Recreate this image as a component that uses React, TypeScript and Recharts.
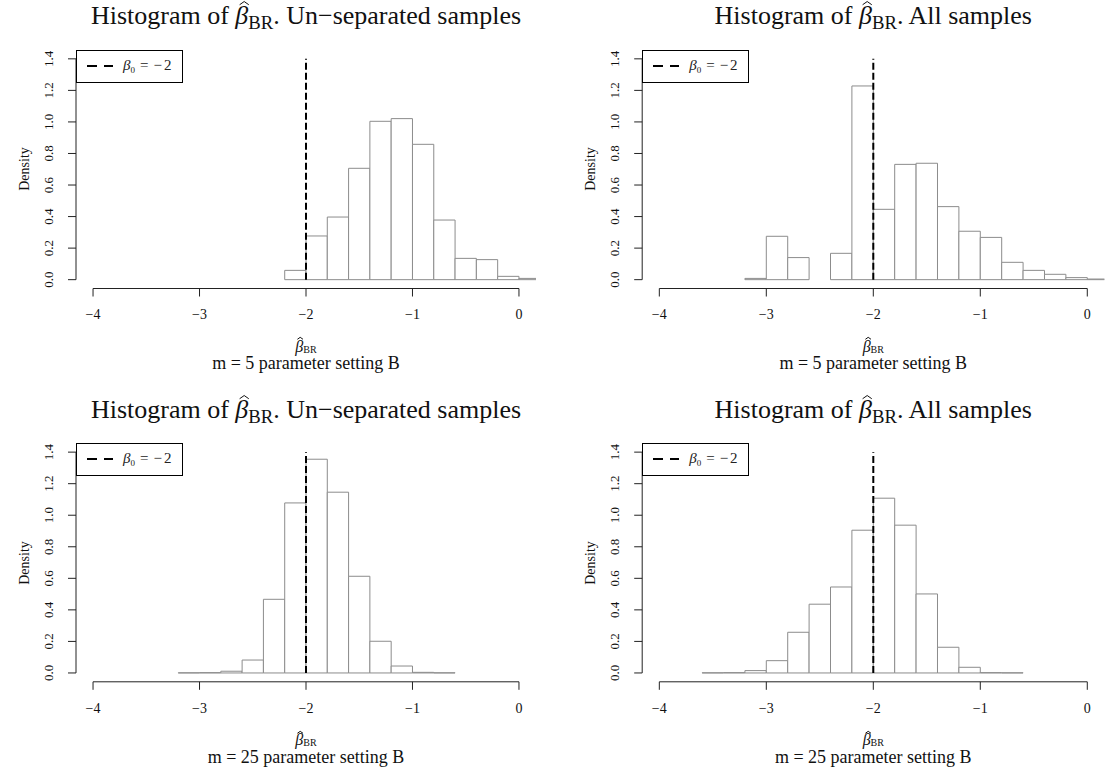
import React from 'react';
import { ComposedChart, XAxis, YAxis, ReferenceArea, ReferenceLine, Legend } from 'recharts';

const FONT = '"Liberation Serif", "DejaVu Serif", serif';

// ---- data ----
const xTicks = [-4, -3, -2, -1, 0];
const yTicks = [0, 0.2, 0.4, 0.6, 0.8, 1.0, 1.2, 1.4];
const trueBeta = -2;
const binWidth = 0.2;
const xDomain: [number, number] = [-4.16, 0.16];
const yDomain: [number, number] = [-0.056, 1.456];

const edgesUnsepM5 = [-2.2, -2.0, -1.8, -1.6, -1.4, -1.2, -1.0, -0.8, -0.6, -0.4, -0.2, 0.0];
const densUnsepM5 = [0.059, 0.277, 0.397, 0.706, 1.004, 1.021, 0.858, 0.378, 0.135, 0.127, 0.021, 0.008];

const edgesAllM5 = [-3.2, -3.0, -2.8, -2.6, -2.4, -2.2, -2.0, -1.8, -1.6, -1.4, -1.2, -1.0, -0.8, -0.6, -0.4, -0.2, 0.0];
const densAllM5 = [0.008, 0.275, 0.14, 0, 0.167, 1.228, 0.446, 0.731, 0.738, 0.463, 0.307, 0.268, 0.11, 0.059, 0.034, 0.013, 0.004];

const edgesUnsepM25 = [-3.2, -3.0, -2.8, -2.6, -2.4, -2.2, -2.0, -1.8, -1.6, -1.4, -1.2, -1.0, -0.8];
const densUnsepM25 = [0.001, 0.002, 0.011, 0.082, 0.467, 1.078, 1.355, 1.146, 0.613, 0.201, 0.044, 0.004, 0.001];

const edgesAllM25 = [-3.6, -3.4, -3.2, -3.0, -2.8, -2.6, -2.4, -2.2, -2.0, -1.8, -1.6, -1.4, -1.2, -1.0, -0.8];
const densAllM25 = [0.001, 0.002, 0.015, 0.078, 0.258, 0.436, 0.545, 0.905, 1.108, 0.937, 0.501, 0.163, 0.036, 0.002, 0.001];

const titleKinds = ['Un\u2212separated samples', 'All samples'];
const mValues = [5, 25];
const settingLabel = 'parameter setting B';

// ---- layout ----
const LAYOUT = [
  { plot: { l: 76, t: 50, r: 536, b: 288.5 }, box: { x: 0, y: 0, w: 553, h: 386 } },
  { plot: { l: 642.2, t: 50, r: 1104.4, b: 288.5 }, box: { x: 553, y: 0, w: 553, h: 386 } },
  { plot: { l: 76, t: 443.3, r: 536, b: 681.8 }, box: { x: 0, y: 386, w: 553, h: 387 } },
  { plot: { l: 642.2, t: 443.3, r: 1104.4, b: 681.8 }, box: { x: 553, y: 386, w: 553, h: 387 } },
];

const fmtX = (v: number) => (v < 0 ? `\u2212${Math.abs(v)}` : `${v}`);

const XTick = (props: any) => {
  const { x, y, payload } = props;
  return (
    <text x={x} y={y + 22.8} textAnchor="middle" style={{ fontFamily: FONT, fontSize: 14 }} fill="#111">
      {fmtX(payload.value)}
    </text>
  );
};

const YTick = (props: any) => {
  const { x, y, payload } = props;
  const bx = x - 14.7;
  return (
    <text
      x={bx}
      y={y}
      transform={`rotate(-90 ${bx} ${y})`}
      textAnchor="middle"
      style={{ fontFamily: FONT, fontSize: 13 }}
      fill="#111"
    >
      {Number(payload.value).toFixed(1)}
    </text>
  );
};

// italic beta with a hat accent drawn above it
const BetaHat = () => (
  <span style={{ position: 'relative', display: 'inline-block', fontStyle: 'italic' }}>
    β
    <svg
      viewBox="0 0 10 4"
      preserveAspectRatio="none"
      style={{
        position: 'absolute',
        left: '0.13em',
        top: '-0.07em',
        width: '0.4em',
        height: '0.16em',
        overflow: 'visible',
      }}
    >
      <polyline points="0.6,3.6 5,0.5 9.4,3.6" fill="none" stroke="#111" strokeWidth={1} vectorEffect="non-scaling-stroke" />
    </svg>
  </span>
);

const LegendBox = () => (
  <div
    style={{
      width: 107,
      height: 33,
      boxSizing: 'border-box',
      border: '1px solid #000',
      background: '#fff',
      position: 'relative',
      fontFamily: FONT,
    }}
  >
    <svg width={30} height={4} style={{ position: 'absolute', left: 10, top: 13 }}>
      <line x1={0} y1={2} x2={26} y2={2} stroke="#000" strokeWidth={2} strokeDasharray="10 7" />
    </svg>
    <div
      style={{
        position: 'absolute',
        left: 46,
        top: 7,
        fontSize: 15,
        lineHeight: '15px',
        whiteSpace: 'nowrap',
        color: '#222',
      }}
    >
      <i>β</i>
      <span style={{ fontSize: 9, position: 'relative', top: 3 }}>0</span>
      <span style={{ marginLeft: 5 }}>=</span>
      <span style={{ marginLeft: 5 }}>{'\u2212'}</span>
      <span style={{ marginLeft: 2 }}>2</span>
    </div>
  </div>
);

type PanelProps = { edges: number[]; dens: number[]; kind: string; m: number; L: typeof LAYOUT[number] };

function Panel({ edges, dens, kind, m, L }: PanelProps) {
  const { plot, box } = L;
  const YW = 40;
  const XH = 40;
  const margin = {
    top: plot.t - box.y,
    left: plot.l - box.x - YW,
    right: box.x + box.w - plot.r,
    bottom: box.y + box.h - plot.b - XH,
  };
  const bins = edges.map((lo, i) => ({ lo, hi: Math.round((lo + binWidth) * 10) / 10, density: dens[i] }));
  const pl = plot.l - box.x;
  const pw = plot.r - plot.l;
  const titleFs = 26;
  const titleBase = plot.t - 25 - box.y;
  const xlabBase = plot.b + 63.5 - box.y;
  const subBase = plot.b + 81 - box.y;
  const k = 0.8375;
  const subFs = 18;
  const subLh = 14;
  return (
    <div style={{ position: 'absolute', left: box.x, top: box.y, width: box.w, height: box.h }}>
      <ComposedChart width={box.w} height={box.h} data={bins} margin={margin}>
        <XAxis
          type="number"
          dataKey="lo"
          domain={xDomain}
          allowDataOverflow
          ticks={xTicks}
          interval={0}
          axisLine={false}
          tickLine={{ stroke: '#222' }}
          tickSize={8}
          tickMargin={0}
          height={XH}
          tick={<XTick />}
        />
        <YAxis
          type="number"
          domain={yDomain}
          allowDataOverflow
          ticks={yTicks}
          interval={0}
          axisLine={false}
          tickLine={{ stroke: '#222' }}
          tickSize={8}
          tickMargin={0}
          width={YW}
          tick={<YTick />}
        />
        {bins
          .filter((b) => b.density > 0)
          .map((b, j) => (
            <ReferenceArea
              key={j}
              x1={b.lo}
              x2={b.hi}
              y1={0}
              y2={b.density}
              fill="#fff"
              fillOpacity={1}
              stroke="#8c8c8c"
              strokeWidth={1}
              ifOverflow="hidden"
            />
          ))}
        <ReferenceLine segment={[{ x: xDomain[0], y: 0 }, { x: xDomain[0], y: 1.4 }]} stroke="#222" ifOverflow="visible" />
        <ReferenceLine segment={[{ x: -4, y: yDomain[0] }, { x: 0, y: yDomain[0] }]} stroke="#222" ifOverflow="visible" />
        <ReferenceLine
          segment={[{ x: trueBeta, y: 0 }, { x: trueBeta, y: 1.4 }]}
          stroke="#000"
          strokeWidth={2}
          strokeDasharray="7 3"
          ifOverflow="visible"
        />
        <Legend
          layout="horizontal"
          verticalAlign="middle"
          align="center"
          content={() => <LegendBox />}
          wrapperStyle={{ left: pl, top: plot.t - box.y, width: 107, height: 33 }}
        />
      </ComposedChart>

      <div
        style={{
          position: 'absolute',
          left: pl - 50,
          width: pw + 100,
          top: titleBase - k * titleFs,
          fontSize: titleFs,
          lineHeight: `${titleFs}px`,
          textAlign: 'center',
          whiteSpace: 'nowrap',
          color: '#111',
        }}
      >
        Histogram of <BetaHat />
        <span style={{ fontSize: '0.72em', position: 'relative', top: '0.28em' }}>BR</span>. {kind}
      </div>

      <div
        style={{
          position: 'absolute',
          left: pl,
          width: pw,
          top: xlabBase - k * 16,
          fontSize: 16,
          lineHeight: '16px',
          textAlign: 'center',
          whiteSpace: 'nowrap',
          color: '#111',
        }}
      >
        <BetaHat />
        <span style={{ fontSize: 10, position: 'relative', top: 1.5 }}>BR</span>
      </div>

      <div
        style={{
          position: 'absolute',
          left: pl,
          width: pw,
          top: subBase - (subLh / 2 + 0.337 * subFs),
          fontSize: subFs,
          lineHeight: `${subLh}px`,
          textAlign: 'center',
          whiteSpace: 'nowrap',
          color: '#111',
        }}
      >
        {`m = ${m} ${settingLabel}`}
      </div>

      <div
        style={{
          position: 'absolute',
          left: pl - 51 - 50,
          top: (plot.t + plot.b) / 2 - box.y - 8,
          width: 100,
          height: 16,
          fontSize: 14,
          lineHeight: '16px',
          textAlign: 'center',
          transform: 'rotate(-90deg)',
          color: '#111',
        }}
      >
        Density
      </div>
    </div>
  );
}

export default function App() {
  const panels = [
    { edges: edgesUnsepM5, dens: densUnsepM5, kind: titleKinds[0], m: mValues[0], L: LAYOUT[0] },
    { edges: edgesAllM5, dens: densAllM5, kind: titleKinds[1], m: mValues[0], L: LAYOUT[1] },
    { edges: edgesUnsepM25, dens: densUnsepM25, kind: titleKinds[0], m: mValues[1], L: LAYOUT[2] },
    { edges: edgesAllM25, dens: densAllM25, kind: titleKinds[1], m: mValues[1], L: LAYOUT[3] },
  ];
  return (
    <div
      style={{
        position: 'absolute',
        left: 0,
        top: 0,
        width: 1106,
        height: 773,
        background: '#fff',
        fontFamily: FONT,
        overflow: 'hidden',
      }}
    >
      {panels.map((p, i) => (
        <Panel key={i} {...p} />
      ))}
    </div>
  );
}
